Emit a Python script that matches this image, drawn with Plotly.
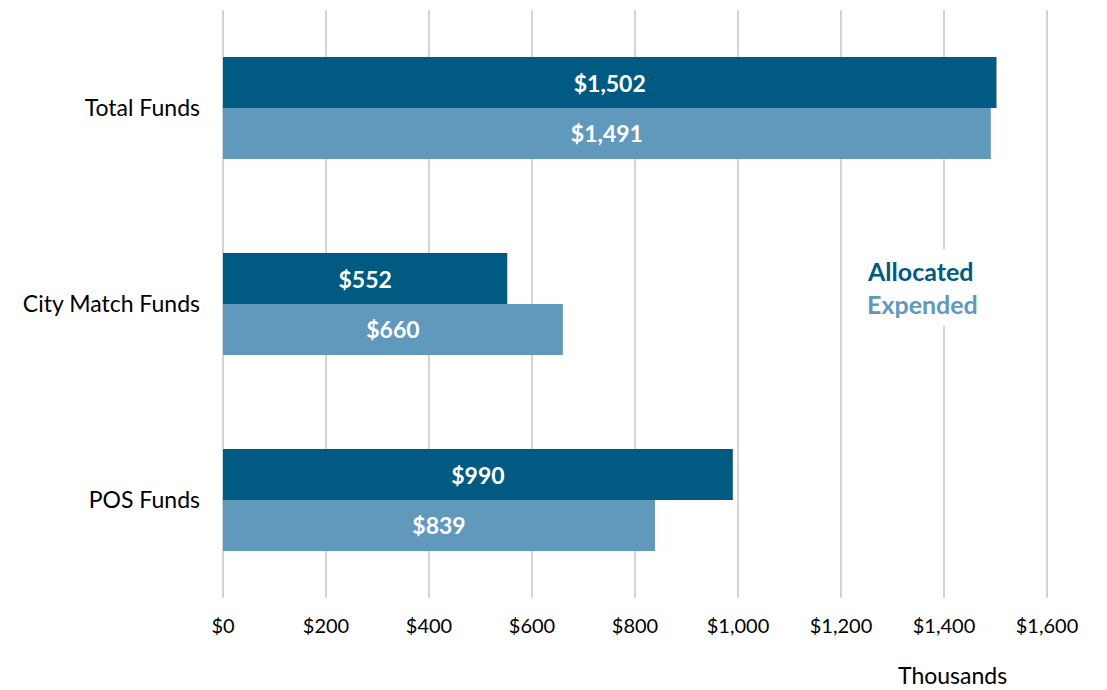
import plotly.graph_objects as go

categories = ["Total Funds", "City Match Funds", "POS Funds"]
allocated = [1502, 552, 990]
expended = [1491, 660, 839]
series_names = ["Allocated", "Expended"]
colors = ["#005A82", "#6199BD"]
tick_values = [0, 200, 400, 600, 800, 1000, 1200, 1400, 1600]
tick_labels = ["$0", "$200", "$400", "$600", "$800", "$1,000", "$1,200", "$1,400", "$1,600"]

FONT = "Lato"

fig = go.Figure()
for name, vals, col in zip(series_names, [allocated, expended], colors):
    fig.add_trace(go.Bar(
        y=categories, x=vals, name=name, orientation="h",
        marker=dict(color=col, line=dict(width=0)),
        texttemplate="$%{x:,}", textposition="inside", insidetextanchor="middle",
        textfont=dict(color="white", size=23, family=FONT, weight="bold"),
        hoverinfo="skip",
    ))

# page has an 8px body margin; plot area in page pixels: x 223..1048, y 10..598
fig.update_layout(
    width=1099, height=682,
    margin=dict(l=215, r=59, t=2, b=92),
    barmode="group", bargap=0.48, bargroupgap=0,
    plot_bgcolor="white", paper_bgcolor="white",
    showlegend=False,
    font=dict(family=FONT, color="#000000"),
)
fig.update_xaxes(
    range=[0, 1602], tickvals=tick_values, ticktext=tick_labels,
    showgrid=True, gridcolor="#D4D4D4", gridwidth=1.5,
    zeroline=True, zerolinecolor="#D4D4D4", zerolinewidth=1.5, showline=False,
    tickfont=dict(size=20, family=FONT), ticklabelstandoff=14,
)
fig.update_yaxes(
    autorange="reversed", showgrid=False, showline=False, zeroline=False,
    tickfont=dict(size=23, family=FONT), ticklabelstandoff=22,
)
fig.add_annotation(text="Thousands", xref="paper", yref="paper", x=(952-223)/825, y=-(675-598)/588,
                   showarrow=False, font=dict(size=23, family=FONT), xanchor="center", yanchor="middle")
fig.add_annotation(text="<b>Allocated</b>", xref="paper", yref="paper", x=(860-223)/825, y=(598-271)/588,
                   showarrow=False, font=dict(size=25, family=FONT, color=colors[0]), xanchor="left",
                   yanchor="middle", bgcolor="white", borderpad=6)
fig.add_annotation(text="<b>Expended</b>", xref="paper", yref="paper", x=(860-223)/825, y=(598-304)/588,
                   showarrow=False, font=dict(size=25, family=FONT, color=colors[1]), xanchor="left",
                   yanchor="middle", bgcolor="white", borderpad=6)

fig.write_html("out.html")
